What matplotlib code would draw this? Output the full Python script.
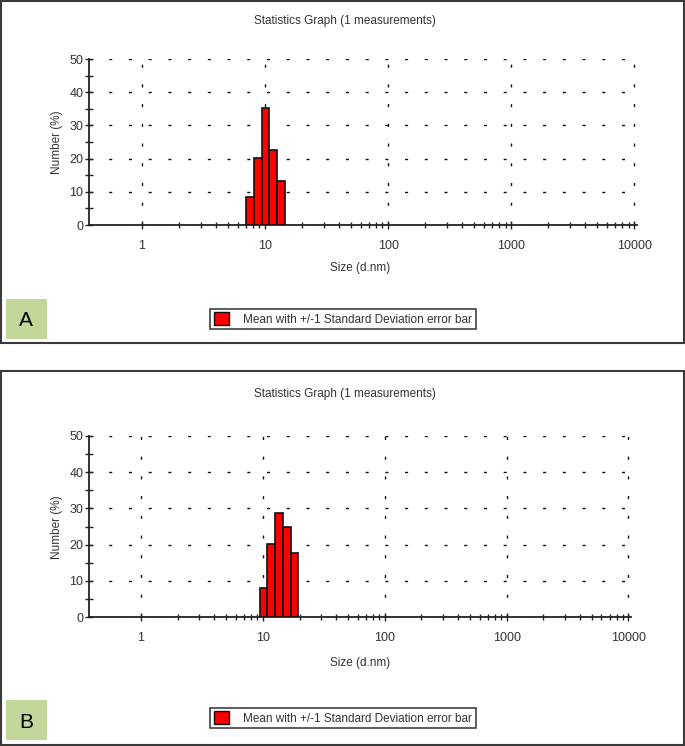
import matplotlib
matplotlib.use("Agg")
import matplotlib.pyplot as plt
import numpy as np
from matplotlib.patches import Rectangle, Patch
from matplotlib.ticker import FixedLocator, NullFormatter

# size classes (d.nm) of the shown bins and their number %
sizes_a = [7.531, 8.721, 10.10, 11.70, 13.54]
number_a = [8.5, 20.1, 35.2, 22.6, 13.2]
sizes_b = [10.10, 11.70, 13.54, 15.69, 18.17]
number_b = [7.9, 20.3, 28.6, 24.9, 17.7]

xticks = [1, 10, 100, 1000, 10000]
xtick_labels = ["1", "10", "100", "1000", "10000"]
yticks = [0, 10, 20, 30, 40, 50]
yminor = [5, 15, 25, 35, 45]

title = "Statistics Graph (1 measurements)"
xlabel = "Size (d.nm)"
ylabel = "Number (%)"
legend_text = "Mean with +/-1 Standard Deviation error bar"

plt.rcParams['font.family'] = ['Liberation Sans Narrow', 'Liberation Sans', 'DejaVu Sans']
plt.rcParams['lines.scale_dashes'] = False

W, H = 685, 746
fig = plt.figure(figsize=(W / 100, H / 100), dpi=100)
txt = "#333333"

xminor = [m * d for d in xticks[:-1] for m in range(2, 10)]


def px(x0, y0, x1, y1):
    # pixel box (top-down) -> figure rect
    return [x0 / W, (H - y1) / H, (x1 - x0) / W, (y1 - y0) / H]


def panel(rect, sizes, values, xmin, xmax):
    ax = fig.add_axes(rect)
    s = np.array(sizes)
    r = np.sqrt(s[1] / s[0])
    left = s / r
    right = s * r
    ax.bar(left, values, width=right - left, align='edge', color='#ff0000',
           edgecolor='#111111', linewidth=1.2, zorder=3)
    ax.set_xscale('log')
    ax.set_xlim(xmin, xmax)
    ax.set_ylim(0, 50)
    for sp in ['top', 'right']:
        ax.spines[sp].set_visible(False)
    for sp in ['left', 'bottom']:
        ax.spines[sp].set_color('#222222')
        ax.spines[sp].set_linewidth(1.3)
    ax.xaxis.set_major_locator(FixedLocator(xticks))
    ax.set_xticklabels(xtick_labels)
    ax.xaxis.set_minor_locator(FixedLocator(xminor))
    ax.xaxis.set_minor_formatter(NullFormatter())
    ax.set_yticks(yticks)
    ax.yaxis.set_minor_locator(FixedLocator(yminor))
    ax.tick_params(axis='both', which='both', direction='inout', length=6,
                   width=1, color='#222222', labelcolor=txt, labelsize=9)
    ax.tick_params(axis='x', which='minor', length=5)
    ax.tick_params(axis='x', which='major', pad=8)
    ax.tick_params(axis='y', which='major', pad=1)
    ax.grid(True, which='major', color='#111111', linewidth=1,
            linestyle=(0, (2.2, 12)), zorder=1)
    ax.set_facecolor('none')
    return ax


ax_a = panel(px(89, 59, 637, 225), sizes_a, number_a, 0.373, 10500)
ax_b = panel(px(89, 436, 631, 617), sizes_b, number_b, 0.374, 10500)

# panel frames
for (x0, y0, x1, y1) in [(1, 1, 684, 343), (1, 371, 684, 745)]:
    fig.patches.append(Rectangle((x0 / W, (H - y1) / H), (x1 - x0) / W, (y1 - y0) / H,
                                 transform=fig.transFigure, fill=False,
                                 edgecolor='#3a3a3a', linewidth=1.5))

for ax, ty, xy, lab, ly, letter, gy in [
        (ax_a, 21, 268, 142, 319, "A", 299),
        (ax_b, 394, 663, 527, 718, "B", 700)]:
    fig.text(345 / W, 1 - ty / H, title, ha='center', va='center', fontsize=8.5, color=txt)
    fig.text(360 / W, 1 - xy / H, xlabel, ha='center', va='center', fontsize=8.5, color=txt)
    fig.text(57 / W, 1 - lab / H, ylabel, ha='center', va='center', rotation=90,
             fontsize=8.5, color=txt)
    leg = fig.legend(handles=[Patch(facecolor='#ff0000', edgecolor='#111111', linewidth=1.0)],
                     labels=[legend_text], loc='center', bbox_to_anchor=(343 / W, 1 - ly / H),
                     fontsize=8.5, frameon=True, fancybox=False, borderpad=0.3,
                     handlelength=1.3, handleheight=1.3, handletextpad=1.2,
                     borderaxespad=0)
    leg.get_frame().set_edgecolor('#111111')
    leg.get_frame().set_linewidth(1.2)
    for t in leg.get_texts():
        t.set_color(txt)
    fig.patches.append(Rectangle((6 / W, 1 - (gy + 40) / H), 41 / W, 40 / H,
                                 transform=fig.transFigure, facecolor='#c4d79b',
                                 edgecolor='none'))
    fig.text(26 / W, 1 - (gy + 22) / H, letter, ha='center', va='center',
             fontsize=15, color='black', family=['Liberation Sans', 'DejaVu Sans'])

fig.savefig("out.png", dpi=100)
